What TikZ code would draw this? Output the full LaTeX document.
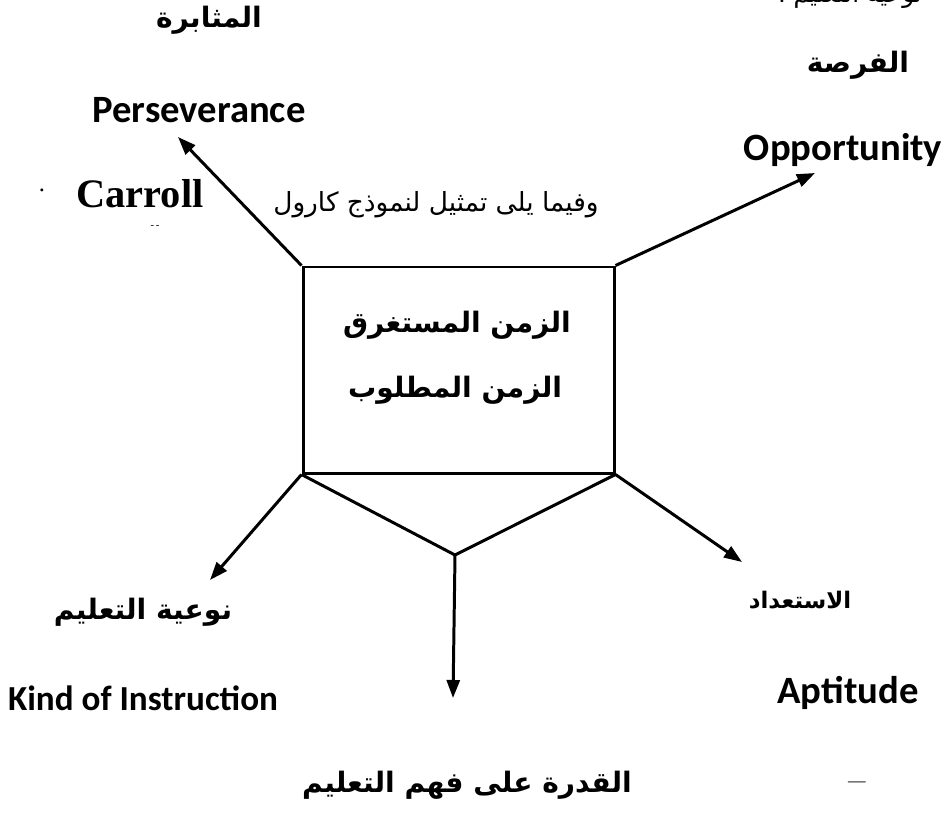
\documentclass[tikz,border=0pt]{standalone}
\usepackage{fontspec}
\setmainfont{Liberation Serif}
\newfontfamily\latsans{Carlito}
\newfontfamily\arabicfont[Script=Arabic]{DejaVu Sans}
\TeXXeTstate=1
\usepackage{tikz}
\usetikzlibrary{arrows.meta,positioning}

\begin{document}
\begin{tikzpicture}[
  edge/.style={line width=1.7pt,line join=miter},
  flow/.style={edge,-{Triangle[length=3.6mm,width=2.6mm]}},
  artxt/.style={font=\arabicfont\bfseries\fontsize{16}{19}\selectfont,inner sep=1pt},
  entxt/.style={font=\latsans\bfseries\fontsize{22}{26}\selectfont,inner sep=1pt},
  plain/.style={font=\arabicfont\fontsize{15}{18}\selectfont,inner sep=1pt}]
\clip (0,0) rectangle (18.92,-16.28);
% central box
\node[draw,edge,minimum width=6.22cm,minimum height=4.12cm,inner sep=0pt] (box) at (9.17,-7.40) {};
\node[artxt] (taken) at (9.14,-6.50) {\beginR الزمن المستغرق\endR};
\node[artxt] (needed) at (9.10,-7.80) {\beginR الزمن المطلوب\endR};
% arrow ends
\coordinate (pers) at (3.56,-2.74);
\coordinate (opp) at (16.30,-3.46);
\coordinate (kind) at (4.20,-11.60);
\coordinate (apt) at (14.84,-11.24);
\coordinate (vtip) at (9.10,-11.10);
\coordinate (abil) at (9.06,-13.96);
\draw[flow] (box.north west) -- (pers);
\draw[flow] (box.north east) -- (opp);
\draw[flow] (box.south west) -- (kind);
\draw[flow] (box.south east) -- (apt);
\draw[edge] (box.south west) -- (vtip) -- (box.south east);
\draw[flow] (vtip) -- (abil);
% labels
\node[artxt] (persAr) at (4.18,-0.40) {\beginR المثابرة\endR};
\node[entxt] (persEn) at (3.98,-2.20) {Perseverance};
\node[font=\bfseries\fontsize{23}{27}\selectfont,inner sep=0pt] (carroll) at (2.80,-3.88) {Carroll};
\node[font=\fontsize{6}{7}\selectfont,inner sep=0pt] (carDash) at (3.10,-4.54) {-\,-};
\node[font=\fontsize{14}{16}\selectfont,inner sep=0pt] (dot) at (0.84,-3.80) {.};
\node[plain] (intro) at (8.72,-4.10) {\beginR وفيما يلى تمثيل لنموذج كارول\endR};
\node[plain,font=\arabicfont\fontsize{14}{16}\selectfont] (topcut) at (17.00,0.08) {\beginR نوعية التعليم .\endR};
\node[artxt] (oppAr) at (17.16,-1.30) {\beginR الفرصة\endR};
\node[entxt] (oppEn) at (16.86,-3.00) {Opportunity};
\node[artxt] (kindAr) at (2.86,-12.24) {\beginR نوعية التعليم\endR};
\node[entxt,font=\latsans\bfseries\fontsize{20}{24}\selectfont] (kindEn) at (2.86,-13.96) {Kind of Instruction};
\node[artxt,font=\arabicfont\bfseries\fontsize{13}{16}\selectfont] (aptAr) at (16.00,-12.00) {\beginR الاستعداد\endR};
\node[entxt] (aptEn) at (16.96,-13.86) {Aptitude};
\node[artxt] (abilAr) at (9.34,-15.70) {\beginR القدرة على فهم التعليم\endR};
\node[inner sep=0pt] (dash) at (17.14,-15.68) {---};
\end{tikzpicture}
\end{document}
